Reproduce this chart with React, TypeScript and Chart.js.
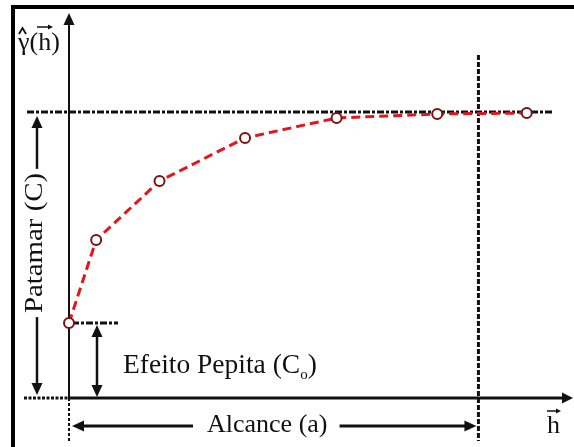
import React, { useEffect, useRef } from "react";
import { Chart, registerables } from "chart.js";
Chart.register(...registerables);

// Data (lag distance h vs semivariance gamma)
const lagDistances = [0, 2.7, 9.0, 17.5, 26.6, 36.6, 45.5];
const semivariance = [7.5, 15.8, 21.7, 26.0, 28.0, 28.4, 28.5];
const sillValue = [28.6];
const rangeValue = [40.7];
const nuggetValue = [7.5];
const xLimits = [0, 50.1];
const yLimits = [0, 38.5];
const labelPatamar = "Patamar (C)";
const labelNugget = ["Efeito Pepita (C", "o", ")"];
const labelRange = "Alcance (a)";
const labelGamma = ["γ", "(h)"];
const labelH = "h";

const SERIF = '"Liberation Serif", "DejaVu Serif", serif';

function line(ctx: CanvasRenderingContext2D, x1: number, y1: number, x2: number, y2: number, w: number, dash: number[] = [], color = "#111") {
  ctx.save();
  ctx.strokeStyle = color;
  ctx.lineWidth = w;
  ctx.setLineDash(dash);
  ctx.beginPath();
  ctx.moveTo(x1, y1);
  ctx.lineTo(x2, y2);
  ctx.stroke();
  ctx.restore();
}

function head(ctx: CanvasRenderingContext2D, tx: number, ty: number, dx: number, dy: number, len = 12, hw = 5, color = "#111") {
  const px = -dy, py = dx;
  ctx.save();
  ctx.fillStyle = color;
  ctx.beginPath();
  ctx.moveTo(tx, ty);
  ctx.lineTo(tx - dx * len + px * hw, ty - dy * len + py * hw);
  ctx.lineTo(tx - dx * len - px * hw, ty - dy * len - py * hw);
  ctx.closePath();
  ctx.fill();
  ctx.restore();
}

const diagramPlugin = {
  id: "diagram",
  beforeDatasetsDraw(chart: any) {
    const ctx: CanvasRenderingContext2D = chart.ctx;
    const x = chart.scales.x, y = chart.scales.y;
    const ox = x.getPixelForValue(0), oy = y.getPixelForValue(0);
    const sillY = y.getPixelForValue(sillValue[0]);
    const rangeX = x.getPixelForValue(rangeValue[0]);
    const nugY = y.getPixelForValue(nuggetValue[0]);
    const topY = y.getPixelForValue(yLimits[1]);
    const rightX = x.getPixelForValue(xLimits[1]);
    ctx.save();
    // image frame
    ctx.fillStyle = "#000";
    ctx.fillRect(11, 5, 4, 442);
    ctx.fillRect(11, 5, 563, 4);

    // axes
    line(ctx, ox, oy, ox, topY + 8, 2);
    head(ctx, ox, topY, 0, -1, 12, 5.5);
    line(ctx, ox, oy, rightX - 8, oy, 3);
    head(ctx, rightX, oy, 1, 0, 11, 5.5);
    line(ctx, 24, oy, ox, oy, 3, [3, 1.5]);
    line(ctx, ox, oy, ox, 441, 2, [3, 2]);

    // sill line
    line(ctx, 27, sillY, 552, sillY, 3, [7, 2, 3, 2]);
    // range line
    line(ctx, rangeX, 55, rangeX, 441, 3, [5, 2]);
    // nugget line
    line(ctx, ox + 3, nugY, 118, nugY, 3, [7, 2, 3, 2]);

    // Patamar arrow + text
    ctx.font = "26px " + SERIF;
    const pscale = 1.11;
    const pw = ctx.measureText(labelPatamar).width * pscale;
    const pcx = 243, pax = 37;
    line(ctx, pax, sillY + 14, pax, pcx - pw / 2 - 4, 2.5);
    head(ctx, pax, sillY + 4, 0, -1, 12, 5.5);
    line(ctx, pax, pcx + pw / 2 + 4, pax, oy - 14, 2.5);
    head(ctx, pax, oy - 3, 0, 1, 12, 5.5);
    ctx.save();
    ctx.translate(42, pcx);
    ctx.rotate(-Math.PI / 2);
    ctx.scale(pscale, 1);
    ctx.fillStyle = "#111";
    ctx.textAlign = "center";
    ctx.textBaseline = "alphabetic";
    ctx.fillText(labelPatamar, 0, 0);
    ctx.restore();

    // Nugget arrow + text
    const nax = 97;
    line(ctx, nax, nugY + 14, nax, oy - 12, 2.5);
    head(ctx, nax, nugY + 2, 0, -1, 12, 5.5);
    head(ctx, nax, oy - 1, 0, 1, 12, 5.5);
    ctx.fillStyle = "#111";
    ctx.textBaseline = "alphabetic";
    ctx.textAlign = "left";
    ctx.font = "27.5px " + SERIF;
    ctx.fillText(labelNugget[0], 123, 373);
    let tx = 123 + ctx.measureText(labelNugget[0]).width;
    ctx.font = "15px " + SERIF;
    ctx.fillText(labelNugget[1], tx, 379);
    tx += ctx.measureText(labelNugget[1]).width;
    ctx.font = "27.5px " + SERIF;
    ctx.fillText(labelNugget[2], tx, 373);

    // Range arrow + text
    const ay = 426;
    ctx.font = "26px " + SERIF;
    const rw = ctx.measureText(labelRange).width;
    const rx0 = 207;
    ctx.fillText(labelRange, rx0, 432);
    line(ctx, ox + 12, ay, rx0 - 14, ay, 3);
    head(ctx, ox + 3, ay, -1, 0, 12, 5.5);
    line(ctx, rx0 + rw + 12, ay, rangeX - 12, ay, 3);
    head(ctx, rangeX - 2, ay, 1, 0, 12, 5.5);

    // gamma label
    ctx.font = "26px " + SERIF;
    ctx.fillText(labelGamma[0], 18, 50);
    const gw = ctx.measureText(labelGamma[0]).width;
    ctx.fillText(labelGamma[1], 18 + gw, 50);
    ctx.save();
    ctx.strokeStyle = "#111";
    ctx.lineWidth = 1.8;
    ctx.beginPath();
    ctx.moveTo(19, 34);
    ctx.lineTo(22.5, 28);
    ctx.lineTo(26, 34);
    ctx.stroke();
    ctx.restore();
    line(ctx, 37, 27, 50, 27, 1.5);
    head(ctx, 53, 27, 1, 0, 5, 2.5);

    // h label
    ctx.font = "26px " + SERIF;
    ctx.fillText(labelH, 547, 433);
    line(ctx, 547, 411, 558, 411, 1.5);
    head(ctx, 561, 411, 1, 0, 5, 2.5);

    ctx.restore();
  },
};

export default function App() {
  const ref = useRef<HTMLCanvasElement | null>(null);
  useEffect(() => {
    if (!ref.current) return;
    const chart = new Chart(ref.current, {
      type: "line",
      data: {
        datasets: [
          {
            data: lagDistances.map((h, i) => ({ x: h, y: semivariance[i] })),
            borderColor: "#e3161b",
            borderWidth: 3,
            borderDash: [9, 5],
            tension: 0,
            pointRadius: 5,
            pointBackgroundColor: "#ffffff",
            pointBorderColor: "#7a1212",
            pointBorderWidth: 2,
            clip: false as any,
          },
        ],
      },
      options: {
        responsive: false,
        animation: false,
        layout: { autoPadding: false, padding: { left: 69, right: 1, top: 13, bottom: 49 } },
        plugins: { legend: { display: false }, tooltip: { enabled: false } },
        scales: {
          x: { type: "linear", display: false, min: xLimits[0], max: xLimits[1] },
          y: { type: "linear", display: false, min: yLimits[0], max: yLimits[1] },
        },
      },
      plugins: [diagramPlugin],
    });
    return () => chart.destroy();
  }, []);
  return (
    <div style={{ position: "fixed", left: 0, top: 0, width: 574, height: 447, background: "#fff" }}>
      <canvas ref={ref} width={574} height={447} style={{ width: 574, height: 447, display: "block" }} />
    </div>
  );
}
